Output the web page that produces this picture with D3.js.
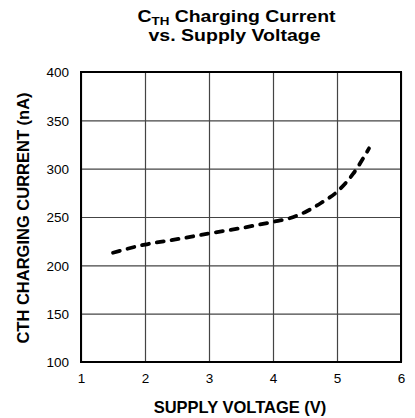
<!DOCTYPE html>
<html><head><meta charset="utf-8">
<script src="https://cdn.jsdelivr.net/npm/d3@7"></script>
<style>body{margin:0;background:#fff}svg{display:block}text{font-family:"Liberation Sans",Arial,sans-serif}</style>
</head><body>
<script>
const voltage = [1.5, 2, 2.5, 3, 3.5, 4, 4.25, 4.5, 4.75, 5, 5.25, 5.5];
const current = [213, 221.5, 227, 233, 238.5, 245, 248.5, 255, 264.5, 276, 294.5, 321];
const xTicks = [1, 2, 3, 4, 5, 6];
const yTicks = [100, 150, 200, 250, 300, 350, 400];

const W = 415, H = 418;
const m = {left: 81, right: 401, top: 72, bottom: 362};
const svg = d3.select("body").append("svg").attr("width", W).attr("height", H);
const x = d3.scaleLinear().domain([1, 6]).range([m.left, m.right]);
const y = d3.scaleLinear().domain([100, 400]).range([m.bottom, m.top]);

// grid
svg.append("g").attr("transform", `translate(0,${m.bottom})`)
  .call(d3.axisBottom(x).tickValues(xTicks).tickSize(-(m.bottom - m.top)).tickFormat(d3.format("d")))
  .call(g => g.select(".domain").remove())
  .call(g => g.selectAll("line").attr("stroke", "#444").attr("stroke-width", 1.2))
  .call(g => g.selectAll("text").attr("font-size", 13.5).attr("fill", "#000").attr("dy", 0).attr("y", 21));
svg.append("g").attr("transform", `translate(${m.left},0)`)
  .call(d3.axisLeft(y).tickValues(yTicks).tickSize(-(m.right - m.left)).tickFormat(d3.format("d")))
  .call(g => g.select(".domain").remove())
  .call(g => g.selectAll("line").attr("stroke", "#444").attr("stroke-width", 1.2))
  .call(g => g.selectAll("text").attr("font-size", 13.5).attr("fill", "#000").attr("x", -12).attr("dy", "0.35em"));

svg.append("rect").attr("x", m.left).attr("y", m.top)
  .attr("width", m.right - m.left).attr("height", m.bottom - m.top)
  .attr("fill", "none").attr("stroke", "#000").attr("stroke-width", 2);

const line = d3.line().x((d, i) => x(voltage[i])).y(d => y(d)).curve(d3.curveMonotoneX);
svg.append("path").datum(current).attr("d", line)
  .attr("fill", "none").attr("stroke", "#000").attr("stroke-width", 3.8)
  .attr("stroke-linecap", "round").attr("stroke-dasharray", "7,8");

// titles
const t = svg.append("text").attr("x", 236.5).attr("y", 22).attr("text-anchor", "middle")
  .attr("font-weight", "bold").attr("font-size", 16)
  .attr("textLength", 198).attr("lengthAdjust", "spacingAndGlyphs");
t.append("tspan").text("C");
t.append("tspan").attr("font-size", 11).attr("dy", 2.5).text("TH");
t.append("tspan").attr("dy", -2.5).text(" Charging Current");
svg.append("text").attr("x", 234.5).attr("y", 41).attr("text-anchor", "middle")
  .attr("font-weight", "bold").attr("font-size", 16)
  .attr("textLength", 172).attr("lengthAdjust", "spacingAndGlyphs").text("vs. Supply Voltage");

svg.append("text").attr("x", 240).attr("y", 412.5).attr("text-anchor", "middle")
  .attr("font-weight", "bold").attr("font-size", 16.5).text("SUPPLY VOLTAGE (V)");
svg.append("text").attr("transform", `translate(28.5,218) rotate(-90)`).attr("text-anchor", "middle")
  .attr("font-weight", "bold").attr("font-size", 16.5).text("CTH CHARGING CURRENT (nA)");
</script>
</body></html>
